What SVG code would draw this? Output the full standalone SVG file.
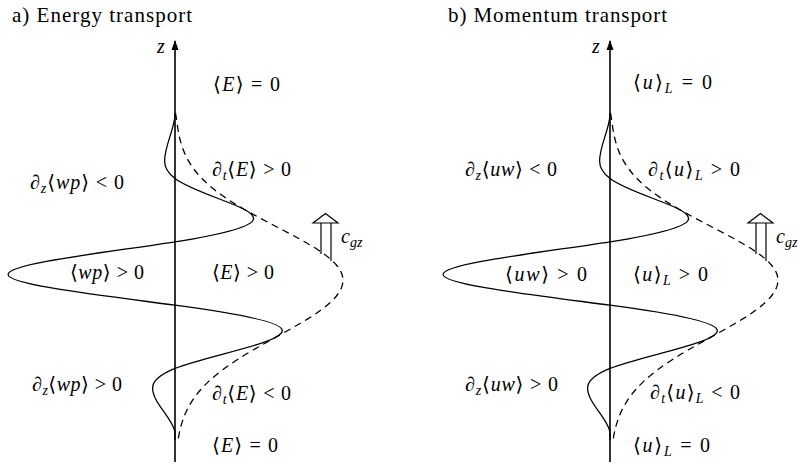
<svg xmlns="http://www.w3.org/2000/svg" width="799" height="464" viewBox="0 0 799 464">
<style>
.t{font-size:20px;fill:#000}
.h{font-size:21px;letter-spacing:1px}
.i{font-style:italic}
.s{font-size:14px}
.curve{fill:none;stroke:#000;stroke-width:1.3}
.dash{stroke-dasharray:7 5}
.axis{fill:none;stroke:#000;stroke-width:1.6}
.cg{fill:none;stroke:#000;stroke-width:1.2}
</style>
<defs>
<marker id="ah" viewBox="0 0 10 10" refX="9" refY="5" markerWidth="10" markerHeight="10" markerUnits="userSpaceOnUse" orient="auto"><path d="M0,1.5 L10,5 L0,8.5 Z" fill="#000"/></marker>
<g id="curves">
<path class="curve" d="M175,113 L175,115.25 C174,130.5 164.6,145.8 164.6,161.1 C164.6,166.9 167.22,172.73 175,178.55 C183.9,185.2 200.44,191.85 218.1,198.5 C235.84,205.18 253.6,211.87 253.6,218.55 C253.6,226.32 225,234.08 175,241.85 C105.16,252.7 8.1,263.55 8.1,274.4 C8.1,284.65 97.58,294.9 175,305.15 C239.07,313.63 282.3,322.12 282.3,330.6 C282.3,343.22 205.97,355.83 175,368.45 C159,374.97 152.6,381.48 152.6,388 C152.6,402.58 171.67,417.17 175,431.75 L175,440"/>
<path class="curve dash" d="M175.5,113 C176.58,118.67 177.15,124.33 178.08,130 C179.17,136.67 180.76,143.33 183.33,150 C185.9,156.67 189.45,163.33 194.55,170 C199.65,176.67 206.31,183.33 214.8,190 C223.29,196.67 233.63,203.33 245.3,210 C256.97,216.67 269.930,223.33 282.7,230 C295.47,236.67 308.02,243.33 318.2,250 C325.84,255 332.09,260 336.4,265 C340.71,270 343,275 343,280 C343,285 341,290 337.2,295 C333.4,300 327.85,305 321,310 C311.87,316.67 300.55,323.33 288.7,330 C276.85,336.67 264.49,343.33 253.1,350 C241.71,356.67 231.29,363.33 222.4,370 C213.51,376.67 206.22,383.33 200.4,390 C194.58,396.67 190.23,403.33 186.98,410 C183.73,416.67 181.55,423.33 179.99,430 C179.05,434 178.34,438 177.78,442"/>
</g>
<g id="cgarrow">
<line class="cg" x1="321" y1="223" x2="321" y2="254"/>
<line class="cg" x1="331" y1="223" x2="331" y2="261"/>
<path class="cg" d="M313,223 L338,223 L325.5,213.5 Z" fill="#fff"/>
</g>
</defs>

<g id="panel-a" style="font-family:'Liberation Serif'">
<text class="t h" x="12" y="22" textLength="181">a) Energy transport</text>
<g id="axis-a"><line class="axis" x1="175" y1="462" x2="175" y2="41" marker-end="url(#ah)"/>
<text class="t i" x="157" y="53">z</text></g>
<g id="connectors-a"><use href="#curves"/></g>
<g id="arrow-a"><use href="#cgarrow"/>
<text class="t i" x="341" y="243">c<tspan class="s" dy="4">gz</tspan></text></g>
<g id="labels-a">
<text class="t" x="213" y="91" textLength="67"><tspan style="font-family:'DejaVu Serif'">⟨</tspan><tspan class="i">E</tspan><tspan style="font-family:'DejaVu Serif'">⟩</tspan> = 0</text>
<text class="t" x="30" y="189" textLength="94">∂<tspan class="i s" dy="4">z</tspan><tspan dy="-4" style="font-family:'DejaVu Serif'">⟨</tspan><tspan class="i">wp</tspan><tspan style="font-family:'DejaVu Serif'">⟩</tspan> &lt; 0</text>
<text class="t" x="212" y="176" textLength="79">∂<tspan class="i s" dy="4">t</tspan><tspan dy="-4" style="font-family:'DejaVu Serif'">⟨</tspan><tspan class="i">E</tspan><tspan style="font-family:'DejaVu Serif'">⟩</tspan> &gt; 0</text>
<text class="t" x="70" y="279" textLength="74"><tspan style="font-family:'DejaVu Serif'">⟨</tspan><tspan class="i">wp</tspan><tspan style="font-family:'DejaVu Serif'">⟩</tspan> &gt; 0</text>
<text class="t" x="212" y="279" textLength="62"><tspan style="font-family:'DejaVu Serif'">⟨</tspan><tspan class="i">E</tspan><tspan style="font-family:'DejaVu Serif'">⟩</tspan> &gt; 0</text>
<text class="t" x="32" y="391" textLength="90">∂<tspan class="i s" dy="4">z</tspan><tspan dy="-4" style="font-family:'DejaVu Serif'">⟨</tspan><tspan class="i">wp</tspan><tspan style="font-family:'DejaVu Serif'">⟩</tspan> &gt; 0</text>
<text class="t" x="212" y="400" textLength="79">∂<tspan class="i s" dy="4">t</tspan><tspan dy="-4" style="font-family:'DejaVu Serif'">⟨</tspan><tspan class="i">E</tspan><tspan style="font-family:'DejaVu Serif'">⟩</tspan> &lt; 0</text>
<text class="t" x="212" y="452" textLength="66"><tspan style="font-family:'DejaVu Serif'">⟨</tspan><tspan class="i">E</tspan><tspan style="font-family:'DejaVu Serif'">⟩</tspan> = 0</text>
</g>
</g>

<g id="panel-b" style="font-family:'Liberation Serif'">
<text class="t h" x="448" y="22" textLength="220">b) Momentum transport</text>
<g id="axis-b"><line class="axis" x1="610" y1="462" x2="610" y2="41" marker-end="url(#ah)"/>
<text class="t i" x="592" y="53">z</text></g>
<g id="connectors-b"><use href="#curves" transform="translate(435,0)"/></g>
<g id="arrow-b"><use href="#cgarrow" transform="translate(435,0)"/>
<text class="t i" x="776" y="243">c<tspan class="s" dy="4">gz</tspan></text></g>
<g id="labels-b">
<text class="t" x="633" y="89" textLength="79"><tspan style="font-family:'DejaVu Serif'">⟨</tspan><tspan class="i">u</tspan><tspan style="font-family:'DejaVu Serif'">⟩</tspan><tspan class="i s" dy="4">L</tspan><tspan dy="-4"> = 0</tspan></text>
<text class="t" x="465" y="176" textLength="92">∂<tspan class="i s" dy="4">z</tspan><tspan dy="-4" style="font-family:'DejaVu Serif'">⟨</tspan><tspan class="i">uw</tspan><tspan style="font-family:'DejaVu Serif'">⟩</tspan> &lt; 0</text>
<text class="t" x="648" y="176" textLength="92">∂<tspan class="i s" dy="4">t</tspan><tspan dy="-4" style="font-family:'DejaVu Serif'">⟨</tspan><tspan class="i">u</tspan><tspan style="font-family:'DejaVu Serif'">⟩</tspan><tspan class="i s" dy="4">L</tspan><tspan dy="-4"> &gt; 0</tspan></text>
<text class="t" x="505" y="281" textLength="82"><tspan style="font-family:'DejaVu Serif'">⟨</tspan><tspan class="i">uw</tspan><tspan style="font-family:'DejaVu Serif'">⟩</tspan> &gt; 0</text>
<text class="t" x="633" y="281" textLength="75"><tspan style="font-family:'DejaVu Serif'">⟨</tspan><tspan class="i">u</tspan><tspan style="font-family:'DejaVu Serif'">⟩</tspan><tspan class="i s" dy="4">L</tspan><tspan dy="-4"> &gt; 0</tspan></text>
<text class="t" x="465" y="391" textLength="93">∂<tspan class="i s" dy="4">z</tspan><tspan dy="-4" style="font-family:'DejaVu Serif'">⟨</tspan><tspan class="i">uw</tspan><tspan style="font-family:'DejaVu Serif'">⟩</tspan> &gt; 0</text>
<text class="t" x="650" y="399" textLength="90">∂<tspan class="i s" dy="4">t</tspan><tspan dy="-4" style="font-family:'DejaVu Serif'">⟨</tspan><tspan class="i">u</tspan><tspan style="font-family:'DejaVu Serif'">⟩</tspan><tspan class="i s" dy="4">L</tspan><tspan dy="-4"> &lt; 0</tspan></text>
<text class="t" x="633" y="452" textLength="77"><tspan style="font-family:'DejaVu Serif'">⟨</tspan><tspan class="i">u</tspan><tspan style="font-family:'DejaVu Serif'">⟩</tspan><tspan class="i s" dy="4">L</tspan><tspan dy="-4"> = 0</tspan></text>
</g>
</g>
</svg>
